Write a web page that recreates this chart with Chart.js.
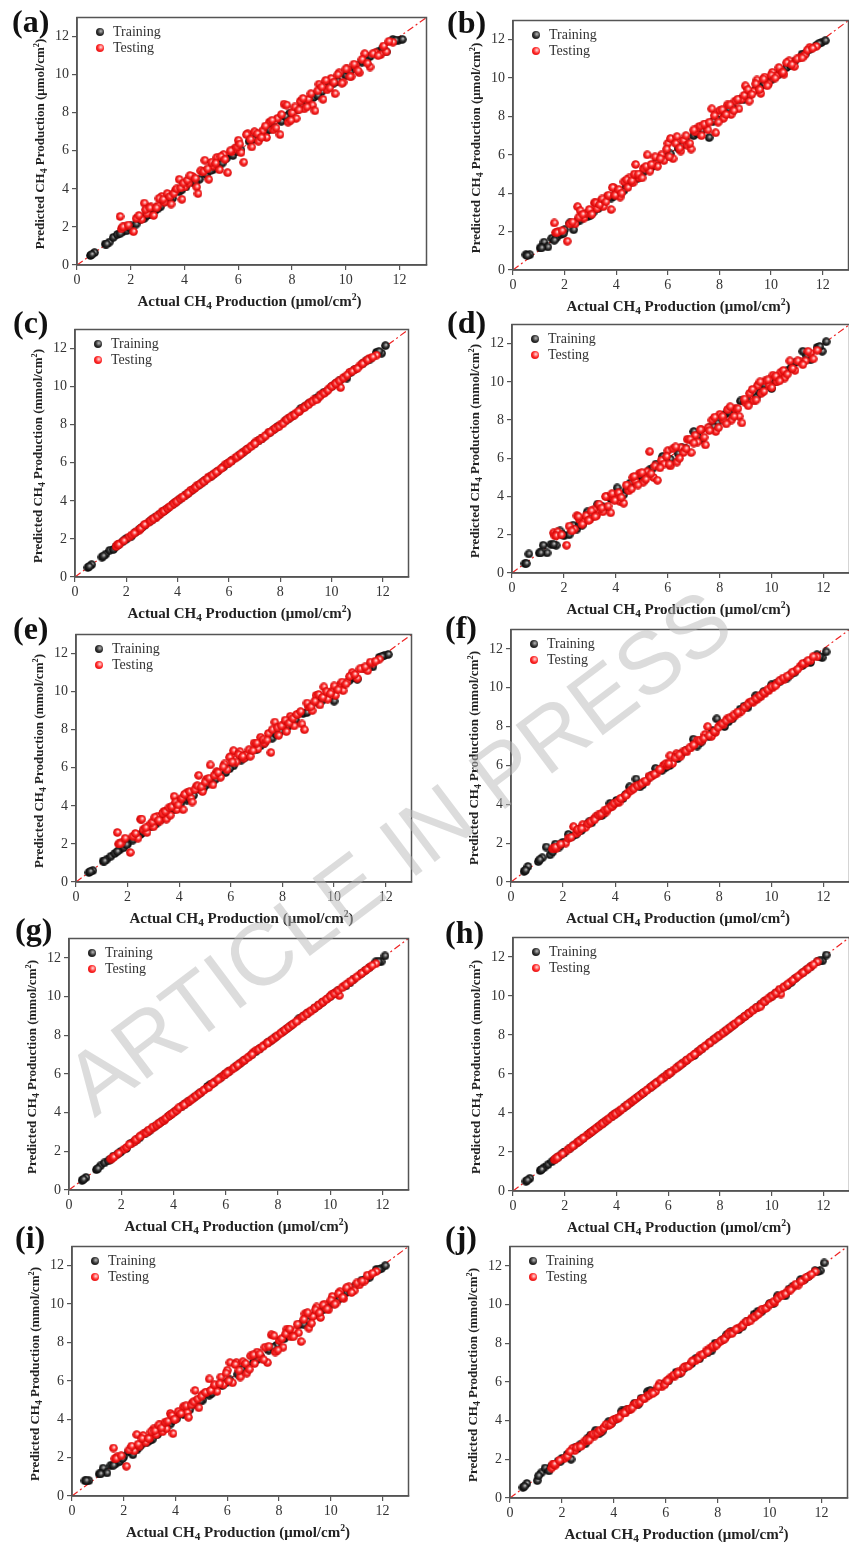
<!DOCTYPE html>
<html>
<head>
<meta charset="utf-8">
<script src="https://cdn.jsdelivr.net/npm/chart.js@4.4.1/dist/chart.umd.min.js"></script>
<style>
  html, body { margin: 0; padding: 0; background: #fff; overflow: hidden; }
  #page { position: relative; width: 849px; height: 1544px; overflow: hidden; }
  .panel-canvas { position: absolute; }
  .plabel { position: absolute; font: bold 32px 'Liberation Serif', serif; color: #111; line-height: 1; transform: translateY(-50%); }
  .xt, .yt { position: absolute; font-family: 'Liberation Serif', serif; font-weight: bold; color: #222; white-space: nowrap; line-height: 1; }
  .xt { font-size: 15px; transform: translate(-50%, -50%); }
  .yt { font-size: 13px; transform: translate(-50%, -50%) rotate(-90deg); }
  .xt sub, .yt sub { font-size: 0.75em; vertical-align: -0.35em; line-height: 0; }
  .xt sup, .yt sup { font-size: 0.65em; vertical-align: 0.55em; line-height: 0; }
  .leg { position: absolute; font: 14px 'Liberation Serif', serif; color: #333; line-height: 1; transform: translateY(-50%); white-space: nowrap; }
  .dot { position: absolute; width: 8px; height: 8px; border-radius: 50%; transform: translate(-50%, -50%); }
  .dot.train { background: radial-gradient(circle at 60% 40%, #bbb 0, #333 45%, #000 100%); }
  .dot.test { background: radial-gradient(circle at 60% 40%, #ffe0e0 0, #ff2a2a 45%, #d00000 100%); }
  #wm { position: absolute; left: 398px; top: 852px; font: 88px 'Liberation Sans', Arial, sans-serif; color: rgba(185,185,185,0.5);
        white-space: nowrap; line-height: 1; transform: translate(-50%, -50%) rotate(-37deg); pointer-events: none; }
</style>
</head>
<body>
<div id="page"></div>
<div id="wm">ARTICLE IN PRESS</div>
<script>
// --- Data (actual values are shared by all ten models) ---
const axisRange = [0, 13];
const axisTicks = [0, 2, 4, 6, 8, 10, 12];

const trainActual = [0.5, 0.65, 1.05, 1.2, 1.35, 1.5, 1.7, 1.85, 2.0, 2.2, 2.35, 2.5, 2.7, 2.9, 3.1, 3.3, 3.55, 3.8, 4.05, 4.3,
  4.55, 4.8, 5.05, 5.3, 5.55, 5.8, 6.1, 6.4, 6.7, 7.0, 7.3, 7.6, 7.9, 8.2, 8.5, 8.8, 9.1, 9.4, 9.7, 10.0,
  10.3, 10.6, 10.9, 11.2, 11.5, 11.75, 11.95, 12.1,
  0.55, 1.1, 1.6, 1.95, 2.6, 3.0, 3.45, 3.9, 4.4, 4.95, 5.4, 5.95, 6.55, 7.15, 7.75, 8.35, 8.95, 9.55, 10.15, 10.75, 11.35, 11.85];

const testActual = [1.6, 1.65, 1.75, 2.1, 2.4, 2.5, 2.6, 2.75, 2.85, 3.0, 3.15, 3.25, 3.4, 3.5, 3.65, 3.8, 3.9, 4.0, 4.15, 4.3,
  4.45, 4.5, 4.65, 4.75, 4.9, 5.05, 5.2, 5.3, 5.45, 5.6, 5.75, 5.85, 6.0, 6.1, 6.2, 6.35, 6.5, 6.6, 6.75, 6.9,
  7.05, 7.15, 7.3, 7.45, 7.55, 7.7, 7.85, 8.0, 8.15, 8.3, 8.45, 8.6, 8.75, 8.85, 9.0, 9.15, 9.3, 9.45, 9.6, 9.75,
  9.9, 10.05, 10.2, 10.35, 10.5, 10.7, 10.9, 11.1, 11.3, 11.5, 11.75,
  1.7, 1.9, 2.2, 2.3, 2.55, 2.7, 2.95, 3.05, 3.2, 3.35, 3.45, 3.6, 3.7, 3.85, 3.95, 4.1, 4.2, 4.4, 4.6, 4.7,
  4.85, 5.0, 5.15, 5.35, 5.5, 5.7, 5.95, 6.05, 6.3, 6.45, 6.7, 6.85, 7.0, 7.25, 7.4, 7.6, 7.8, 7.95, 8.1, 8.25,
  8.4, 8.55, 8.7, 8.95, 9.1, 9.25, 9.4, 9.55, 9.7, 9.85, 10.0, 10.15, 10.3, 10.45, 10.6, 10.8, 11.0, 11.2, 11.4, 11.6];

// predicted values, model (a)..(j)
const aTrainPred = [0.5, 0.65, 1.1, 1.2, 1.45, 1.6, 1.75, 1.8, 2.05, 2.15, 2.4, 2.45, 2.65, 2.85, 3.05, 3.35, 3.5, 3.85, 4.1, 4.35,
  4.5, 4.75, 5.0, 5.35, 5.6, 5.75, 6.05, 6.5, 6.65, 6.95, 7.25, 7.55, 7.95, 8.15, 8.55, 8.8, 9.1, 9.5, 9.65, 9.95,
  10.3, 10.65, 10.95, 11.2, 11.2, 11.85, 11.8, 11.85,
  0.55, 1.1, 1.65, 1.95, 2.6, 2.95, 3.5, 3.95, 4.35, 4.95, 5.35, 5.95, 6.6, 7.1, 7.8, 8.35, 8.9, 9.55, 10.1, 10.7, 11.35, 11.8];
const aTestPred = [2.55, 1.9, 2.0, 1.75, 2.4, 3.25, 2.7, 3.05, 2.6, 3.1, 3.6, 3.3, 3.7, 3.2, 3.9, 4.5, 3.45, 4.1, 4.3, 4.65,
  4.1, 3.75, 4.9, 5.5, 4.5, 5.2, 5.65, 5.0, 5.8, 4.85, 5.95, 6.1, 6.55, 5.9, 5.4, 6.9, 6.2, 7.0, 6.5, 7.05,
  6.7, 7.5, 7.1, 7.7, 6.85, 8.45, 7.5, 8.0, 7.7, 8.6, 8.2, 8.7, 8.4, 8.1, 9.5, 8.7, 9.2, 9.8, 9.0, 10.1,
  9.6, 10.3, 9.9, 10.5, 10.1, 11.1, 10.4, 11.15, 11.05, 11.2, 11.7,
  2.0, 2.1, 2.45, 2.6, 2.9, 3.0, 3.0, 3.5, 3.45, 3.75, 3.6, 3.75, 4.0, 4.05, 4.3, 4.45, 4.7, 4.55, 4.95, 4.9,
  5.05, 5.4, 5.35, 5.7, 5.55, 6.0, 6.2, 6.35, 6.85, 6.6, 6.9, 6.7, 7.3, 7.6, 7.2, 7.9, 8.4, 7.6, 8.3, 8.15,
  8.75, 8.3, 9.0, 9.15, 9.35, 9.7, 9.3, 9.6, 10.0, 9.55, 10.3, 9.9, 10.55, 10.2, 10.8, 10.6, 11.1, 11.0, 11.5, 11.75];

const bTrainPred = [0.8, 0.8, 1.15, 1.45, 1.2, 1.65, 1.7, 1.85, 2.1, 2.45, 2.1, 2.55, 2.75, 2.8, 3.0, 3.2, 3.6, 3.75, 4.05, 4.15,
  4.55, 4.75, 5.1, 5.25, 5.6, 5.85, 6.05, 6.35, 6.75, 7.0, 7.25, 6.9, 7.85, 8.2, 8.5, 8.9, 9.05, 9.4, 9.65, 9.9,
  10.2, 10.55, 10.85, 11.25, 11.5, 11.7, 11.85, 11.95,
  0.75, 1.15, 1.55, 1.9, 2.6, 2.85, 3.45, 3.85, 4.4, 4.95, 5.4, 5.9, 6.5, 7.1, 7.75, 8.4, 8.9, 9.5, 10.1, 10.65, 11.3, 11.8];
const bTestPred = [2.45, 1.95, 2.0, 1.5, 2.4, 3.3, 3.1, 2.7, 2.95, 3.1, 3.5, 3.2, 3.6, 3.3, 3.85, 3.15, 4.3, 4.05, 3.8, 4.6,
  4.3, 4.8, 4.55, 5.5, 4.8, 5.3, 6.0, 5.15, 5.5, 5.4, 6.0, 5.7, 6.6, 6.85, 5.8, 6.95, 6.2, 6.75, 6.5, 6.3,
  7.2, 7.4, 7.0, 7.6, 7.3, 8.4, 7.15, 8.3, 7.9, 8.6, 8.1, 8.8, 8.4, 8.9, 9.6, 8.8, 9.3, 9.9, 9.2, 10.05,
  9.7, 10.3, 10.1, 10.45, 10.2, 10.9, 10.6, 11.05, 11.2, 11.6, 11.65,
  1.95, 2.05, 2.4, 2.5, 2.75, 2.9, 3.15, 2.9, 3.5, 3.4, 3.7, 3.55, 3.9, 4.3, 3.9, 4.2, 4.0, 4.7, 4.65, 5.0,
  5.0, 4.8, 5.4, 5.5, 5.9, 5.8, 6.3, 5.9, 6.6, 6.35, 7.0, 6.6, 7.3, 7.5, 7.6, 7.7, 8.05, 7.7, 8.35, 8.1,
  8.6, 8.3, 8.9, 9.1, 9.4, 9.15, 9.7, 9.4, 9.95, 9.6, 10.15, 10.0, 10.55, 10.3, 10.8, 10.7, 11.0, 11.05, 11.45, 11.55];

const cTrainPred = [0.5, 0.65, 1.05, 1.2, 1.4, 1.45, 1.7, 1.85, 2.0, 2.15, 2.35, 2.5, 2.7, 2.9, 3.1, 3.3, 3.55, 3.8, 4.05, 4.3,
  4.55, 4.8, 5.05, 5.3, 5.55, 5.8, 6.1, 6.4, 6.7, 7.0, 7.3, 7.6, 7.9, 8.2, 8.5, 8.85, 9.1, 9.4, 9.7, 10.0,
  10.3, 10.45, 10.9, 11.2, 11.45, 11.8, 11.75, 12.15,
  0.55, 1.1, 1.6, 1.95, 2.6, 3.0, 3.45, 3.9, 4.4, 4.95, 5.4, 5.95, 6.55, 7.15, 7.75, 8.35, 8.95, 9.55, 10.15, 10.75, 11.35, 11.85];
const cTestPred = [1.6, 1.7, 1.75, 2.1, 2.4, 2.45, 2.6, 2.75, 2.85, 3.0, 3.1, 3.25, 3.45, 3.5, 3.65, 3.8, 3.9, 4.0, 4.15, 4.3,
  4.45, 4.55, 4.65, 4.8, 4.9, 5.05, 5.25, 5.3, 5.45, 5.6, 5.75, 5.9, 6.0, 6.1, 6.2, 6.35, 6.5, 6.6, 6.75, 6.9,
  7.1, 7.15, 7.3, 7.45, 7.6, 7.7, 7.85, 8.0, 8.15, 8.3, 8.45, 8.6, 8.7, 8.85, 9.0, 9.15, 9.3, 9.35, 9.6, 9.7,
  9.9, 10.05, 10.2, 9.95, 10.5, 10.75, 10.9, 11.1, 11.3, 11.5, 11.65,
  1.7, 1.9, 2.2, 2.3, 2.55, 2.75, 2.95, 3.05, 3.2, 3.35, 3.45, 3.6, 3.7, 3.85, 3.95, 4.1, 4.2, 4.4, 4.6, 4.7,
  4.85, 5.0, 5.15, 5.35, 5.5, 5.7, 5.95, 6.05, 6.3, 6.45, 6.7, 6.85, 7.0, 7.25, 7.4, 7.6, 7.8, 7.9, 8.05, 8.25,
  8.4, 8.5, 8.7, 8.9, 9.05, 9.2, 9.3, 9.5, 9.65, 9.8, 10.0, 10.15, 10.3, 10.45, 10.6, 10.8, 10.95, 11.2, 11.4, 11.55];

const dTrainPred = [0.5, 1.0, 1.05, 1.45, 1.05, 1.5, 1.45, 2.2, 1.95, 2.0, 2.5, 2.3, 2.5, 3.2, 2.95, 3.6, 3.4, 3.9, 4.45, 4.1,
  4.7, 4.9, 4.85, 5.4, 5.7, 6.1, 5.95, 6.25, 6.5, 7.4, 7.0, 7.6, 7.85, 8.3, 8.45, 9.0, 8.95, 9.2, 9.85, 9.65,
  10.25, 10.6, 11.0, 11.6, 11.15, 11.8, 11.6, 12.1,
  0.5, 1.05, 1.5, 2.0, 2.55, 3.05, 3.5, 3.9, 4.35, 5.1, 5.45, 5.8, 6.55, 7.15, 7.65, 8.4, 9.0, 9.45, 10.0, 10.75, 11.35, 11.85];
const dTestPred = [2.1, 1.95, 2.15, 1.45, 2.3, 3.0, 2.8, 2.65, 3.0, 2.8, 3.3, 3.0, 3.5, 3.2, 4.0, 3.15, 3.9, 4.1, 3.75, 3.65,
  4.6, 4.3, 5.0, 4.8, 5.2, 4.75, 5.3, 6.35, 5.0, 4.85, 5.9, 5.7, 6.4, 5.6, 6.5, 5.8, 6.55, 6.3, 7.0, 6.3,
  7.2, 6.85, 7.5, 6.7, 7.6, 8.0, 7.4, 8.3, 8.0, 8.55, 8.0, 8.6, 8.2, 7.85, 8.9, 9.4, 9.0, 9.8, 9.4, 10.05,
  9.8, 10.35, 10.0, 10.5, 10.2, 11.1, 10.6, 11.05, 11.1, 11.5, 11.65,
  1.95, 2.0, 2.45, 2.2, 2.95, 2.55, 2.75, 3.25, 2.95, 3.6, 3.4, 4.0, 3.5, 4.15, 3.8, 4.2, 3.95, 4.6, 4.4, 5.05,
  4.6, 5.25, 4.9, 5.2, 5.6, 5.5, 6.1, 5.7, 6.6, 6.0, 6.5, 7.0, 6.8, 7.5, 7.1, 7.45, 8.15, 7.6, 8.2, 7.8,
  8.7, 8.2, 8.6, 9.1, 8.75, 9.6, 9.05, 10.0, 9.5, 10.1, 9.7, 10.3, 10.05, 10.6, 10.4, 10.7, 11.1, 10.9, 11.6, 11.2];

const eTrainPred = [0.5, 0.6, 1.1, 1.2, 1.35, 1.5, 1.7, 1.8, 2.0, 2.2, 2.4, 2.5, 2.75, 2.9, 3.05, 3.3, 3.55, 3.8, 4.1, 4.3,
  4.55, 4.85, 5.1, 5.3, 5.6, 5.75, 6.1, 6.4, 6.7, 6.95, 7.3, 7.55, 7.9, 8.15, 8.5, 8.85, 9.1, 9.4, 9.75, 9.5,
  10.3, 10.6, 10.65, 11.2, 11.3, 11.8, 11.9, 11.95,
  0.55, 1.1, 1.6, 1.95, 2.6, 3.0, 3.45, 3.9, 4.4, 4.95, 5.4, 5.95, 6.55, 7.15, 7.75, 8.35, 8.9, 9.55, 10.15, 10.75, 11.3, 11.85];
const eTestPred = [2.6, 2.0, 2.05, 1.55, 2.3, 3.3, 2.75, 2.6, 3.0, 2.9, 3.45, 3.2, 3.7, 3.3, 3.5, 4.5, 3.8, 4.25, 3.8, 4.7,
  4.4, 4.2, 5.0, 5.6, 4.75, 5.4, 6.15, 5.1, 5.8, 5.5, 6.2, 5.9, 6.6, 6.9, 6.3, 6.85, 6.5, 6.7, 6.6, 7.3,
  7.0, 7.6, 7.3, 7.8, 6.8, 8.4, 7.7, 8.2, 7.9, 8.7, 8.2, 8.8, 8.3, 8.0, 9.2, 9.0, 9.8, 9.3, 10.25, 9.6,
  10.0, 9.8, 10.3, 10.05, 10.5, 11.0, 10.7, 11.2, 11.1, 11.5, 11.7,
  2.0, 2.3, 2.4, 2.55, 3.3, 2.85, 3.15, 3.4, 3.25, 3.6, 3.7, 3.9, 3.95, 4.2, 4.05, 4.4, 4.6, 4.75, 4.85, 5.05,
  5.0, 5.25, 5.45, 5.6, 5.75, 6.05, 6.55, 6.3, 6.7, 6.6, 6.95, 6.9, 7.3, 7.5, 7.45, 8.0, 8.1, 8.2, 8.5, 8.35,
  8.6, 8.8, 8.95, 9.4, 9.2, 9.5, 9.85, 9.7, 10.0, 9.9, 10.3, 10.1, 10.5, 10.4, 10.8, 10.9, 11.2, 11.3, 11.55, 11.6];

const fTrainPred = [0.55, 0.8, 1.05, 1.25, 1.8, 1.4, 1.95, 1.8, 2.05, 2.45, 2.35, 2.45, 2.65, 2.95, 3.05, 3.35, 3.5, 4.05, 4.2, 4.3,
  4.9, 5.3, 5.0, 5.4, 5.85, 5.75, 6.0, 6.35, 6.75, 7.35, 7.2, 7.5, 8.4, 8.0, 8.4, 8.9, 9.0, 9.6, 9.8, 10.15,
  10.3, 10.5, 10.8, 11.15, 11.3, 11.7, 11.55, 11.85,
  0.6, 1.15, 1.55, 2.0, 2.7, 3.1, 3.4, 3.95, 4.5, 4.9, 5.5, 5.9, 6.6, 7.0, 7.8, 8.25, 9.05, 9.55, 10.2, 10.7, 11.3, 11.6];
const fTestPred = [1.7, 1.75, 1.75, 2.0, 2.85, 2.5, 2.6, 2.95, 2.8, 3.0, 3.2, 3.35, 3.4, 3.55, 3.6, 3.85, 3.9, 4.05, 4.1, 4.35,
  4.5, 4.6, 4.75, 4.9, 4.95, 5.1, 5.15, 5.45, 5.5, 5.6, 5.8, 6.0, 6.0, 6.5, 6.1, 6.6, 6.45, 6.7, 6.7, 6.9,
  7.1, 7.3, 7.25, 7.6, 8.0, 7.5, 7.7, 8.05, 8.1, 8.4, 8.4, 8.55, 8.7, 8.8, 9.0, 9.25, 9.25, 9.4, 9.55, 9.7,
  9.85, 10.0, 10.2, 10.35, 10.45, 10.65, 10.85, 11.1, 11.25, 11.4, 11.6,
  1.8, 1.95, 2.25, 2.3, 2.7, 2.75, 3.0, 3.1, 3.2, 3.45, 3.5, 3.7, 3.75, 3.9, 4.05, 4.15, 4.3, 4.45, 4.7, 4.8,
  4.95, 5.05, 5.2, 5.4, 5.55, 5.8, 6.1, 6.1, 6.4, 6.55, 6.75, 6.9, 7.05, 7.3, 7.4, 7.55, 7.75, 7.95, 8.15, 8.3,
  8.45, 8.6, 8.75, 9.0, 9.15, 9.3, 9.45, 9.6, 9.75, 9.9, 10.05, 10.1, 10.35, 10.5, 10.6, 10.8, 10.95, 11.25, 11.4, 11.6];

const gTrainPred = [0.5, 0.65, 1.05, 1.25, 1.4, 1.5, 1.75, 1.85, 2.0, 2.15, 2.4, 2.5, 2.7, 2.9, 3.1, 3.3, 3.55, 3.8, 4.05, 4.3,
  4.55, 4.8, 5.05, 5.35, 5.55, 5.8, 6.1, 6.4, 6.7, 7.0, 7.3, 7.6, 7.9, 8.2, 8.5, 8.85, 9.1, 9.4, 9.7, 10.0,
  10.3, 10.55, 10.9, 11.2, 11.5, 11.8, 11.8, 12.1,
  0.55, 1.1, 1.6, 1.95, 2.6, 3.0, 3.45, 3.9, 4.4, 4.95, 5.45, 5.95, 6.55, 7.15, 7.75, 8.35, 8.95, 9.55, 10.15, 10.7, 11.35, 11.8];
const gTestPred = [1.6, 1.65, 1.75, 2.1, 2.4, 2.5, 2.6, 2.8, 2.9, 3.0, 3.15, 3.25, 3.4, 3.5, 3.6, 3.8, 3.9, 4.0, 4.15, 4.3,
  4.45, 4.5, 4.65, 4.75, 4.9, 5.05, 5.2, 5.3, 5.45, 5.6, 5.75, 5.85, 6.0, 6.1, 6.2, 6.35, 6.5, 6.6, 6.75, 6.9,
  7.1, 7.2, 7.3, 7.45, 7.55, 7.7, 7.85, 8.0, 8.15, 8.3, 8.45, 8.6, 8.75, 8.85, 9.0, 9.15, 9.3, 9.45, 9.6, 9.75,
  9.9, 10.1, 10.2, 10.05, 10.5, 10.7, 10.9, 11.1, 11.3, 11.5, 11.7,
  1.7, 1.9, 2.2, 2.35, 2.6, 2.75, 2.95, 3.1, 3.25, 3.35, 3.45, 3.6, 3.7, 3.85, 3.95, 4.1, 4.25, 4.4, 4.6, 4.7,
  4.85, 5.0, 5.15, 5.3, 5.5, 5.7, 5.95, 6.05, 6.3, 6.45, 6.7, 6.85, 7.0, 7.25, 7.4, 7.6, 7.8, 7.95, 8.1, 8.25,
  8.4, 8.55, 8.7, 8.95, 9.1, 9.25, 9.4, 9.55, 9.7, 9.85, 10.0, 10.15, 10.3, 10.45, 10.6, 10.8, 11.0, 11.2, 11.4, 11.6];

const hTrainPred = [0.5, 0.65, 1.05, 1.2, 1.35, 1.5, 1.7, 1.85, 2.0, 2.2, 2.35, 2.5, 2.7, 2.9, 3.1, 3.3, 3.55, 3.8, 4.05, 4.3,
  4.55, 4.8, 5.05, 5.3, 5.55, 5.8, 6.1, 6.4, 6.7, 6.95, 7.3, 7.6, 7.9, 8.2, 8.5, 8.8, 9.1, 9.4, 9.7, 10.0,
  10.3, 10.55, 10.9, 11.2, 11.5, 11.75, 11.8, 12.1,
  0.55, 1.1, 1.6, 1.95, 2.6, 3.0, 3.45, 3.9, 4.4, 4.95, 5.4, 5.95, 6.55, 7.15, 7.75, 8.35, 8.95, 9.55, 10.15, 10.7, 11.35, 11.8];
const hTestPred = [1.6, 1.65, 1.75, 2.1, 2.4, 2.5, 2.6, 2.75, 2.85, 3.0, 3.15, 3.25, 3.4, 3.5, 3.65, 3.8, 3.9, 4.0, 4.15, 4.3,
  4.45, 4.5, 4.65, 4.75, 4.9, 5.05, 5.2, 5.3, 5.45, 5.6, 5.75, 5.85, 6.0, 6.1, 6.2, 6.35, 6.5, 6.6, 6.75, 6.9,
  7.05, 7.15, 7.3, 7.45, 7.55, 7.7, 7.85, 8.0, 8.15, 8.3, 8.45, 8.6, 8.75, 8.85, 9.0, 9.15, 9.3, 9.4, 9.6, 9.75,
  9.9, 10.05, 10.2, 10.1, 10.5, 10.7, 10.9, 11.1, 11.3, 11.5, 11.75,
  1.7, 1.9, 2.2, 2.3, 2.55, 2.7, 2.95, 3.05, 3.2, 3.35, 3.45, 3.6, 3.7, 3.85, 3.95, 4.1, 4.2, 4.4, 4.6, 4.7,
  4.85, 5.0, 5.15, 5.35, 5.5, 5.7, 5.95, 6.05, 6.3, 6.45, 6.7, 6.85, 7.0, 7.25, 7.4, 7.6, 7.8, 7.95, 8.1, 8.25,
  8.4, 8.55, 8.7, 8.95, 9.1, 9.25, 9.4, 9.45, 9.7, 9.85, 10.0, 10.15, 10.35, 10.45, 10.6, 10.8, 11.0, 11.2, 11.4, 11.6];

const iTrainPred = [0.8, 0.8, 1.15, 1.45, 1.2, 1.6, 1.7, 1.8, 2.05, 2.3, 2.15, 2.4, 2.7, 2.8, 2.95, 3.2, 3.55, 3.75, 4.05, 4.25,
  4.5, 4.75, 5.0, 5.25, 5.5, 5.75, 6.05, 6.35, 6.7, 6.95, 7.25, 7.6, 7.85, 8.2, 8.5, 8.95, 9.1, 9.45, 9.7, 10.0,
  10.25, 10.6, 10.9, 11.25, 11.4, 11.8, 11.85, 12.0,
  0.8, 1.15, 1.6, 1.95, 2.55, 2.9, 3.5, 3.95, 4.4, 4.95, 5.35, 5.9, 6.6, 7.1, 7.75, 8.35, 8.95, 9.55, 10.1, 10.7, 11.3, 11.8];
const iTestPred = [2.5, 1.95, 2.05, 1.55, 2.35, 3.2, 2.6, 3.15, 2.8, 3.0, 3.5, 3.2, 3.7, 3.35, 3.5, 4.3, 3.25, 4.0, 4.3, 4.65,
  4.35, 4.1, 4.85, 5.5, 4.6, 5.3, 5.4, 6.1, 5.6, 5.45, 6.2, 5.8, 6.55, 6.95, 5.9, 6.95, 6.2, 7.0, 6.4, 7.3,
  6.9, 7.5, 7.2, 7.75, 6.95, 8.4, 7.5, 8.1, 7.75, 8.7, 8.3, 8.6, 8.5, 8.05, 9.5, 8.75, 9.35, 9.85, 9.3, 10.0,
  9.7, 10.4, 10.05, 10.65, 10.3, 10.9, 10.7, 11.0, 11.2, 11.5, 11.7,
  1.95, 2.1, 2.4, 2.6, 2.7, 3.0, 3.0, 3.35, 3.4, 3.7, 3.55, 3.85, 3.9, 4.2, 4.0, 4.4, 4.3, 4.7, 4.75, 4.9,
  5.05, 5.2, 5.4, 5.5, 5.8, 5.85, 6.4, 6.0, 6.85, 6.55, 6.9, 6.6, 7.35, 7.4, 7.1, 7.8, 8.35, 7.6, 8.2, 8.45,
  8.7, 8.3, 8.95, 9.2, 9.55, 9.0, 9.7, 9.55, 9.95, 9.75, 10.2, 10.0, 10.55, 10.35, 10.85, 10.6, 11.1, 11.2, 11.5, 11.6];

const jTrainPred = [0.55, 0.75, 0.9, 1.3, 1.55, 1.4, 1.75, 1.9, 2.05, 2.25, 2.0, 2.6, 2.75, 2.8, 3.25, 3.5, 3.45, 3.95, 4.05, 4.5,
  4.6, 4.9, 5.15, 5.5, 5.5, 5.85, 6.05, 6.5, 6.7, 6.95, 7.2, 7.5, 8.0, 8.2, 8.6, 8.7, 9.1, 9.5, 9.65, 10.05,
  10.45, 10.45, 10.95, 11.3, 11.45, 11.75, 11.75, 12.15,
  0.6, 1.15, 1.65, 1.9, 2.55, 3.1, 3.35, 3.85, 4.5, 4.85, 5.55, 5.9, 6.45, 7.2, 7.6, 8.45, 8.85, 9.65, 10.05, 10.8, 11.3, 11.7];
const jTestPred = [1.55, 1.75, 1.7, 2.05, 2.55, 2.45, 2.65, 2.7, 2.9, 2.95, 3.25, 3.2, 3.45, 3.45, 3.7, 3.75, 3.85, 4.05, 4.1, 4.35,
  4.4, 4.55, 4.6, 4.8, 4.85, 5.1, 5.15, 5.3, 5.45, 5.5, 5.9, 5.75, 6.0, 6.1, 6.25, 6.3, 6.55, 6.5, 6.8, 6.85,
  7.1, 7.1, 7.35, 7.4, 7.6, 7.75, 7.8, 8.0, 8.15, 8.3, 8.55, 8.6, 8.75, 8.8, 9.0, 9.1, 9.3, 9.4, 9.55, 9.75,
  9.85, 10.05, 10.1, 10.4, 10.5, 10.7, 10.9, 11.0, 11.25, 11.45, 11.7,
  1.75, 1.95, 2.15, 2.4, 2.6, 2.65, 3.0, 3.0, 3.3, 3.35, 3.5, 3.6, 3.8, 3.8, 4.0, 4.1, 4.15, 4.4, 4.6, 4.65,
  4.9, 4.95, 5.15, 5.3, 5.4, 5.75, 5.85, 6.05, 6.35, 6.45, 6.75, 6.8, 7.05, 7.2, 7.4, 7.55, 7.85, 7.9, 8.1, 8.2,
  8.45, 8.5, 8.7, 8.9, 9.1, 9.15, 9.35, 9.5, 9.75, 9.8, 10.0, 10.15, 10.3, 10.45, 10.55, 10.75, 11.05, 11.2, 11.4, 11.55];

// --- Panel layout: plot box [left, top, right, bottom] and label centre ---
const panels = [
  { key: 'a', train: aTrainPred, test: aTestPred, unit: 'μmol', box: [77, 12, 432, 265], lab: [12, 21] },
  { key: 'b', train: bTrainPred, test: bTestPred, unit: 'μmol', box: [513, 15, 854, 270], lab: [447, 22] },
  { key: 'c', train: cTrainPred, test: cTestPred, unit: 'mmol', box: [75, 324, 414, 577], lab: [13, 322] },
  { key: 'd', train: dTrainPred, test: dTestPred, unit: 'mmol', box: [512, 319, 855, 573], lab: [447, 322] },
  { key: 'e', train: eTrainPred, test: eTestPred, unit: 'mmol', box: [76, 629, 417, 882], lab: [13, 628] },
  { key: 'f', train: fTrainPred, test: fTestPred, unit: 'mmol', box: [511, 624, 855, 882], lab: [445, 627] },
  { key: 'g', train: gTrainPred, test: gTestPred, unit: 'mmol', box: [69, 933, 414, 1190], lab: [15, 929] },
  { key: 'h', train: hTrainPred, test: hTestPred, unit: 'mmol', box: [513, 932, 855, 1191], lab: [445, 932] },
  { key: 'i', train: iTrainPred, test: iTestPred, unit: 'mmol', box: [72, 1241, 414, 1496], lab: [15, 1237] },
  { key: 'j', train: jTrainPred, test: jTestPred, unit: 'mmol', box: [510, 1241, 853, 1498], lab: [445, 1237] }
];

const Y_AXIS_W = 45;
const X_AXIS_H = 30;
const page = document.getElementById('page');

Chart.defaults.font.family = "'Liberation Serif', 'Times New Roman', serif";

// little shaded balls, like the Origin markers
function makeBall(c1, c2, c3) {
  const s = 9;
  const cv = document.createElement('canvas');
  cv.width = cv.height = s;
  const g = cv.getContext('2d');
  const grd = g.createRadialGradient(s * 0.58, s * 0.4, 0.3, s / 2, s / 2, s / 2);
  grd.addColorStop(0, c1);
  grd.addColorStop(0.45, c2);
  grd.addColorStop(1, c3);
  g.fillStyle = grd;
  g.beginPath();
  g.arc(s / 2, s / 2, s / 2 - 0.2, 0, Math.PI * 2);
  g.fill();
  return cv;
}
const blackBall = makeBall('#bdbdbd', '#333333', '#000000');
const redBall = makeBall('#ffe4e4', '#ff2a2a', '#cc0000');

// frame around the plot area
const boxPlugin = {
  id: 'box',
  afterDraw(chart) {
    const a = chart.chartArea, ctx = chart.ctx;
    ctx.save();
    ctx.strokeStyle = '#555';
    ctx.lineWidth = 1.5;
    ctx.strokeRect(a.left, a.top, a.right - a.left, a.bottom - a.top);
    ctx.restore();
  }
};

function toPoints(xs, ys) {
  return xs.map((x, i) => ({ x: x, y: ys[i] }));
}

function addHtml(cls, html, left, top) {
  const el = document.createElement('div');
  el.className = cls;
  el.innerHTML = html;
  el.style.left = left + 'px';
  el.style.top = top + 'px';
  page.appendChild(el);
  return el;
}

panels.forEach(p => {
  const [L, T, R, B] = p.box;
  const cv = document.createElement('canvas');
  cv.className = 'panel-canvas';
  cv.width = (R - L) + Y_AXIS_W;
  cv.height = (B - T) + X_AXIS_H;
  cv.style.left = (L - Y_AXIS_W) + 'px';
  cv.style.top = T + 'px';
  page.appendChild(cv);

  const axisCommon = {
    type: 'linear',
    min: axisRange[0],
    max: axisRange[1],
    afterBuildTicks: s => { s.ticks = axisTicks.map(v => ({ value: v })); },
    grid: { display: true, drawOnChartArea: false, drawTicks: true, tickLength: 5, color: '#555', lineWidth: 1.2 },
    border: { display: true, color: '#555', width: 1.5 },
    ticks: { color: '#333', font: { size: 14 }, padding: 2, maxRotation: 0, autoSkip: false }
  };

  new Chart(cv, {
    type: 'scatter',
    data: {
      datasets: [
        {
          label: 'Testing',
          data: toPoints(testActual, p.test),
          pointStyle: redBall,
          pointRadius: 4.5
        },
        {
          label: 'Training',
          data: toPoints(trainActual, p.train),
          pointStyle: blackBall,
          pointRadius: 4.5
        },
        {
          type: 'line',
          label: 'y = x',
          data: toPoints(axisRange, axisRange),
          borderColor: '#ee2222',
          borderWidth: 1.2,
          borderDash: [7, 3, 2, 3],
          pointRadius: 0,
          fill: false
        }
      ]
    },
    options: {
      responsive: false,
      animation: false,
      devicePixelRatio: 1,
      layout: { padding: 0 },
      plugins: { legend: { display: false }, tooltip: { enabled: false } },
      scales: {
        x: Object.assign({}, axisCommon, {
          position: 'bottom',
          afterFit: s => { s.height = X_AXIS_H; s.paddingLeft = 0; s.paddingRight = 0; }
        }),
        y: Object.assign({}, axisCommon, {
          position: 'left',
          ticks: Object.assign({}, axisCommon.ticks, { padding: 3 }),
          afterFit: s => { s.width = Y_AXIS_W; s.paddingTop = 0; s.paddingBottom = 0; }
        })
      }
    },
    plugins: [boxPlugin]
  });

  // panel letter, axis titles, legend
  addHtml('plabel', '(' + p.key + ')', p.lab[0], p.lab[1]);
  addHtml('xt', 'Actual CH<sub>4</sub> Production (μmol/cm<sup>2</sup>)', (L + R) / 2 - 5, B + 36);
  addHtml('yt', 'Predicted CH<sub>4</sub> Production (' + p.unit + '/cm<sup>2</sup>)', L - 38, (T + B) / 2 + 5);
  addHtml('dot train', '', L + 23, T + 20);
  addHtml('dot test', '', L + 23, T + 36);
  addHtml('leg', 'Training', L + 36, T + 20);
  addHtml('leg', 'Testing', L + 36, T + 36);
});

// watermark goes above the plots
page.appendChild(document.getElementById('wm'));
</script>
</body>
</html>
